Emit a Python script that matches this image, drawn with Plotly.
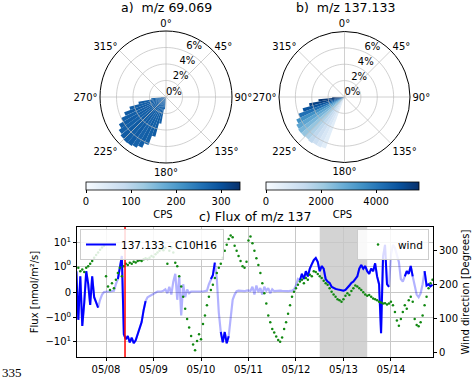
import numpy as np
import pandas as pd
import plotly.graph_objects as go

# ---------------- data ----------------
# wind rose a) m/z 69.069 : direction bin centres (deg), frequency (%), mean CPS
dir_a = [187.5, 192.5, 197.5, 202.5, 207.5, 212.5, 217.5, 222.5, 227.5, 232.5,
         237.5, 242.5, 247.5, 252.5, 257.5, 262.5, 267.5]
freq_a = [1.5, 3.3, 5.0, 6.2, 6.8, 7.1, 7.25, 7.3, 7.2, 7.0,
          6.6, 6.0, 5.4, 4.6, 3.4, 1.8, 0.6]
cps_a = [275, 280, 285, 278, 282, 276, 284, 280, 286, 279,
         283, 281, 287, 280, 285, 278, 282]

# wind rose b) m/z 137.133
dir_b = [202.5, 207.5, 212.5, 217.5, 222.5, 227.5, 232.5, 237.5,
         242.5, 247.5, 252.5, 257.5, 262.5, 267.5]
freq_b = [6.7, 6.8, 6.8, 6.9, 6.8, 6.9, 6.9, 6.8, 6.5, 6.0, 5.3, 4.4, 3.2, 1.5]
cps_b = [600, 900, 1200, 1500, 1800, 2200, 2600, 3000, 3500, 4200, 4800, 5200, 5400, 5500]

# time series: hours since 2019-05-07 00:00
flux_start_hour = 9
flux = [0.8, -1.2, 0.6, -2.2, -0.4, 0.8, 0.3, -0.5, 0.6, -0.2, -0.4, -0.6,
        -0.3, -0.1, 0.0, 0.02, 0.02, 0.02, 0.03, 0.05, 0.3,
        0.5, 0.9, 2.7, -5, -8, -6, -11, -7, -12, -9, -5, -3, -1.5, -0.7, -0.35,
        -0.2, -0.15, -0.1, -0.05, 0.0, 0.02, 0.02, 0.02, 0.05, 0.1, -0.05, 0.2,
        -0.1, 0.4, 0.7, -0.3, 0.6, -0.9, 0.3, -0.2, 0.1, -0.05, 0.02, 0.03,
        0.02, 0.02, 0.03, 0.02, 0.02, 0.03, 0.05, 0.3,
        0.5, 0.65, 1.4, 0.5, -0.8, -4, -11, -4, -12, -6,
        -1, -0.3, -0.1, 0.03, 0.05, 0.04, 0.05, 0.03, 0.05, 0.06, 0.04, 0.2,
        -0.1, 0.25, 0.0, 0.15, -0.1, 0.2, 0.05, 0.15, -0.05, 0.1, 0.03, 0.04,
        0.03, 0.05, 0.04, 0.03, 0.04, 0.03, 0.04, 0.05, 0.1, 0.25, 0.5,
        0.45, 0.7, 0.5, 0.8, 0.6, 0.9, 1.2, 1.8, 2.2, 1.5, 0.8, 1.0, 0.9, 0.5,
        0.4, 0.35, 0.2, 0.15, 0.12, 0.1, 0.08, 0.06, 0.05, 0.08, 0.15, 0.25,
        0.35, 0.4, 0.5, 0.6, 0.9, 1.1, 0.9, 1.0, 0.8, 0.7, 0.9, 0.8, 1.3, 0.6,
        0.3, -4.5, 2.5, 8, 0.3, 0.2,
        3, 8, 6, 3, 1.5, 0.5, 0.4,
        0.6, 0.8, 0.7, 1.0, 0.6,
        0.3, -0.1, -0.2, -0.05, 0.3,
        0.8, 0.25, 0.3, 0.22, 0.28]
# periods (start hour, end hour) where the flux is significant (dark line)
dark_periods = [(9, 20), (30, 44), (77, 79), (82, 86), (122, 167), (175, 179), (185, 189)]

wind_start_hour = 10
wind = [250, 240, 245, 238, 250, 255, 262, 270, 280, 288, 295, 303, 310, 315,
        225, 195, 185, 205, 190, 215, 235, 250, 225, 255, 262, 258, 265, 262,
        268, 266, 270, 272, 270, 275, 278, 276, 280, 285, 282, 290, 295, 300,
        305, 302, 308, 262, 300, 310, 295, 265, 255, 225, 195, 165, 130, 100,
        75, 50, 25, 8, 35, 55, 40, 85, 110, 140, 165, 185, 200, 220, 235, 250,
        262, 280, 300, 318, 335, 345, 340, 315, 300, 285, 270, 255, 250, 268,
        330, 342, 322, 300, 278, 258, 235, 205, 175, 145, 110, 90, 70, 60, 48,
        38, 33, 45, 70, 90, 115, 140, 165, 180, 190, 200, 210, 215, 205, 220,
        215, 230, 225, 240, 238, 232, 225, 220, 212, 205, 200, 190, 180, 172,
        165, 158, 155, 150, 158, 168, 175, 170, 182, 190, 198, 195, 190, 185,
        178, 172, 168, 170, 165, 160, 158, 155, 150, 148, 145, 146, 142, 145,
        150, 140, 120, 95, 80, 100, 120, 140, 130, 155, 165, 150, 100, 82, 78,
        90, 110, 140, 165, 190, 205, 215]

base_day = pd.Timestamp("2019-05-07")
event_time = pd.Timestamp("2019-05-08 09:36")
span_start = pd.Timestamp("2019-05-12 12:00")
span_end = pd.Timestamp("2019-05-13 12:00")
x_start = pd.Timestamp("2019-05-07 09:20")
x_end = pd.Timestamp("2019-05-14 21:15")

flux_tick_values = [-10, -1, 0, 1, 10]
flux_tick_text = ["\u221210<sup>1</sup>", "\u221210<sup>0</sup>", "0", "10<sup>0</sup>", "10<sup>1</sup>"]
wind_ticks = [0, 100, 200, 300]
rose_dirs = [0, 45, 90, 135, 180, 225, 270, 315]
rose_rticks = [0, 2, 4, 6]
rose_rmax = 8
rose_label_dir = 24

# ---------------- helpers ----------------
LINSCALE = 1.0 / (1.0 - 0.1)


def symlog(v):
    a = abs(v)
    s = 1 if v >= 0 else -1
    return s * (a * LINSCALE if a <= 1 else LINSCALE + np.log10(a))


flux_hours = list(range(flux_start_hour, flux_start_hour + len(flux)))
flux_time = [base_day + pd.Timedelta(hours=h) for h in flux_hours]
flux_t = [symlog(v) for v in flux]
dark_t = [ft if any(a <= h <= b for a, b in dark_periods) else None
          for h, ft in zip(flux_hours, flux_t)]
wind_time = [base_day + pd.Timedelta(hours=h)
             for h in range(wind_start_hour, wind_start_hour + len(wind))]

BLUES = ['rgb(247,251,255)', 'rgb(222,235,247)', 'rgb(198,219,239)', 'rgb(158,202,225)',
         'rgb(107,174,214)', 'rgb(66,146,198)', 'rgb(33,113,181)', 'rgb(8,81,156)',
         'rgb(8,48,107)']
FONT = "DejaVu Sans"
W, H = 474, 379
GRID = "rgba(190,190,190,0.9)"


def px(x):
    return x / W


def py(y):
    return 1 - y / H


def cbar(xc, length, tickvals):
    return dict(orientation="h", x=px(xc), xanchor="center", y=py(182), yanchor="top",
                len=length, lenmode="pixels", thickness=8, outlinewidth=0.8,
                outlinecolor="black", ticks="outside", ticklen=3, tickwidth=0.8,
                tickcolor="black", tickvals=tickvals,
                tickfont=dict(size=10, family=FONT, color="black"),
                title=dict(text="CPS", side="bottom", font=dict(size=10, family=FONT, color="black")),
                xpad=0, ypad=0)


fig = go.Figure()


def add_rose(sub, dirs, freq, cps, cmax, cb):
    fig.add_trace(go.Barpolar(r=freq, theta=dirs, width=[5] * len(dirs), subplot=sub,
                              marker=dict(color=cps, colorscale=BLUES, cmin=0, cmax=cmax,
                                          line=dict(width=0), colorbar=cb),
                              showlegend=False, hoverinfo="skip"))
    # grid drawn over the bars (as matplotlib does)
    circ = list(np.arange(0, 361, 3))
    for rv in rose_rticks[1:]:
        fig.add_trace(go.Scatterpolar(r=[rv] * len(circ), theta=circ, mode="lines",
                                      line=dict(color=GRID, width=0.8), subplot=sub,
                                      showlegend=False, hoverinfo="skip"))
    for d in rose_dirs:
        fig.add_trace(go.Scatterpolar(r=[0, rose_rmax], theta=[d, d], mode="lines",
                                      line=dict(color=GRID, width=0.8), subplot=sub,
                                      showlegend=False, hoverinfo="skip"))
    fig.add_trace(go.Scatterpolar(r=rose_rticks, theta=[rose_label_dir] * len(rose_rticks),
                                  mode="text", text=[f"{v}%" for v in rose_rticks],
                                  textposition="top right",
                                  textfont=dict(size=10, family=FONT, color="black"),
                                  subplot=sub, showlegend=False, hoverinfo="skip"))


add_rose("polar", dir_a, freq_a, cps_a, 342, cbar(163, 154, [0, 100, 200, 300]))
add_rose("polar2", dir_b, freq_b, cps_b, 5560, cbar(342.5, 153, [0, 2000, 4000]))

# time series
fig.add_trace(go.Scatter(x=flux_time, y=flux_t, mode="lines",
                         line=dict(color="rgba(0,0,255,0.3)", width=2.2),
                         showlegend=False, xaxis="x", yaxis="y", hoverinfo="skip"))
fig.add_trace(go.Scatter(x=flux_time, y=dark_t, mode="lines", connectgaps=False,
                         line=dict(color="#0000ff", width=2),
                         name="137.133 - C10H16", legend="legend", xaxis="x", yaxis="y"))
fig.add_trace(go.Scatter(x=wind_time, y=wind, mode="markers",
                         marker=dict(color="#118811", size=2.5, line=dict(width=0)),
                         name="wind", legend="legend2", xaxis="x", yaxis="y2"))


def polar_layout(x0, x1):
    return dict(
        domain=dict(x=[px(x0), px(x1)], y=[py(163), py(31)]),
        bgcolor="white",
        angularaxis=dict(direction="clockwise", rotation=90, tickvals=rose_dirs,
                         ticktext=[f"{d}\u00b0" for d in rose_dirs], showline=True,
                         linecolor="black", linewidth=1, showgrid=False,
                         ticks="", tickfont=dict(size=10, family=FONT, color="black")),
        radialaxis=dict(range=[0, rose_rmax], tickvals=rose_rticks, showticklabels=False,
                        showline=False, ticks="", showgrid=False),
    )


fig.update_layout(
    width=W, height=H, margin=dict(l=0, r=0, t=0, b=0, autoexpand=False),
    paper_bgcolor="white", plot_bgcolor="white",
    font=dict(family=FONT, size=10, color="black"),
    polar=polar_layout(100, 232),
    polar2=polar_layout(279, 410),
    xaxis=dict(domain=[px(77), px(433)], type="date", range=[x_start, x_end],
               dtick=86400000, tick0="2019-05-08", tickformat="%m/%d",
               showgrid=True, gridcolor="#c8c8c8", gridwidth=0.8,
               showline=True, linecolor="black", linewidth=1, mirror=True,
               ticks="outside", ticklen=3, tickcolor="black",
               tickfont=dict(size=10, family=FONT, color="black"), anchor="y"),
    yaxis=dict(domain=[py(357), py(227)], range=[-2.78, 2.78],
               tickvals=[symlog(v) for v in flux_tick_values], ticktext=flux_tick_text,
               showgrid=True, gridcolor="#c8c8c8", gridwidth=0.8, zeroline=False,
               showline=True, linecolor="black", linewidth=1, mirror=True,
               ticks="outside", ticklen=3, tickcolor="black",
               tickfont=dict(size=10, family=FONT, color="black"),
               title=dict(text="Flux [nmol/m\u00b2/s]", standoff=4,
                          font=dict(size=10, family=FONT, color="black")),
               anchor="x"),
    yaxis2=dict(overlaying="y", side="right", anchor="x", range=[-12, 370],
                tickvals=wind_ticks, showgrid=False, zeroline=False,
                showline=True, linecolor="black", linewidth=1,
                ticks="outside", ticklen=3, tickcolor="black",
                tickfont=dict(size=10, family=FONT, color="black"),
                title=dict(text="Wind direction [Degrees]", standoff=4,
                           font=dict(size=10, family=FONT, color="black"))),
    legend=dict(x=px(80), y=py(229), xanchor="left", yanchor="top",
                bgcolor="rgba(255,255,255,0.85)", bordercolor="#cccccc", borderwidth=1,
                font=dict(size=10.5, family=FONT, color="black"), itemwidth=30,
                tracegroupgap=0),
    legend2=dict(x=px(429), y=py(229), xanchor="right", yanchor="top",
                 bgcolor="rgba(255,255,255,0.85)", bordercolor="#cccccc", borderwidth=1,
                 font=dict(size=10.5, family=FONT, color="black"), itemwidth=30),
    shapes=[
        dict(type="rect", xref="x", yref="y domain", x0=span_start, x1=span_end, y0=0, y1=1,
             fillcolor="#d3d3d3", line=dict(width=0), layer="below"),
        dict(type="line", xref="x", yref="y domain", x0=event_time, x1=event_time, y0=0, y1=1,
             line=dict(color="red", width=1.5), layer="above"),
    ],
    annotations=[
        dict(text="a)\u00a0 m/z 69.069", x=px(166), y=py(8), xref="paper", yref="paper",
             xanchor="center", yanchor="middle",
             showarrow=False, font=dict(size=12.5, family=FONT, color="black")),
        dict(text="b)\u00a0 m/z 137.133", x=px(345), y=py(8), xref="paper", yref="paper",
             xanchor="center", yanchor="middle",
             showarrow=False, font=dict(size=12.5, family=FONT, color="black")),
        dict(text="c) Flux of m/z 137", x=px(255), y=py(216), xref="paper", yref="paper",
             xanchor="center", yanchor="middle",
             showarrow=False, font=dict(size=12.5, family=FONT, color="black")),
        dict(text="335", x=0, y=py(372), xref="paper", yref="paper", xanchor="left",
             yanchor="middle",
             showarrow=False, font=dict(size=13, family="Liberation Serif", color="black")),
    ],
)

fig.write_html("out.html", config={"displayModeBar": False},
               post_script="document.body.style.margin='0px';document.body.style.overflow='hidden';")
